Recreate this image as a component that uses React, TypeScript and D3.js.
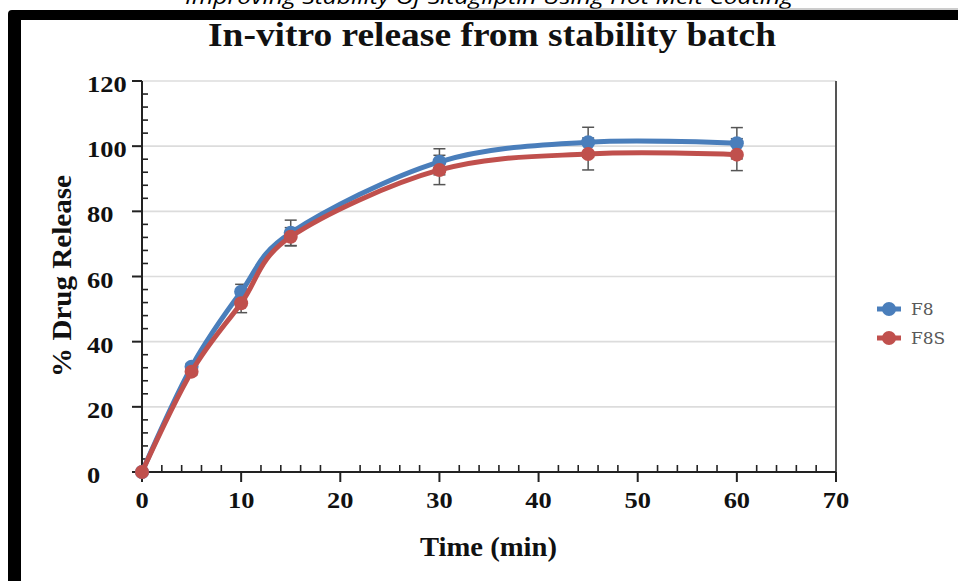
import React from "react";
import * as d3 from "d3";

const times = [0, 5, 10, 15, 30, 45, 60];
const f8Values = [0, 32.3, 55.3, 73.4, 95.2, 101.2, 100.9];
const f8Errors = [0, 1, 2.3, 3.9, 4, 4.6, 4.8];
const f8sValues = [0, 30.8, 51.8, 72.2, 92.7, 97.6, 97.4];
const f8sErrors = [0, 1, 2.9, 2.8, 4.5, 4.9, 4.9];
const xTickValues = [0, 10, 20, 30, 40, 50, 60, 70];
const yTickValues = [0, 20, 40, 60, 80, 100, 120];
const seriesNames = ["F8", "F8S"];
const seriesColors = ["#4A7EBB", "#C0504D"];

const W = 958;
const H = 581;
const serif = "'Liberation Serif', 'Times New Roman', serif";

export default function App() {
  const x = d3.scaleLinear().domain([0, 70]).range([142, 836]);
  const y = d3.scaleLinear().domain([0, 120]).range([472, 81]);

  const xMinor = d3.range(0, 70.01, 2).filter((v) => v % 10 !== 0);
  const yMinor = d3.range(0, 120.01, 4).filter((v) => v % 20 !== 0);

  const line = d3
    .line<number>()
    .x((_, i) => x(times[i]))
    .y((d) => y(d))
    .curve(d3.curveCardinal.tension(0));

  const series = [
    { name: seriesNames[0], values: f8Values, errors: f8Errors, color: seriesColors[0] },
    { name: seriesNames[1], values: f8sValues, errors: f8sErrors, color: seriesColors[1] },
  ];

  return (
    <svg
      width={W}
      height={H}
      style={{ position: "absolute", left: 0, top: 0, background: "#fff" }}
    >
      <rect x={0} y={0} width={W} height={H} fill="#fff" />
      {/* page header (cut at the top, as in the source) */}
      <text
        x={489}
        y={4}
        textAnchor="middle"
        fontFamily="'Open Sans', 'Liberation Sans', sans-serif"
        fontStyle="italic"
        fontSize={20}
        textLength={608}
        lengthAdjust="spacingAndGlyphs"
        fill="#000"
      >
        Improving Stability Of Sitagliptin Using Hot Melt Coating
      </text>
      <line x1={470} x2={W} y1={9} y2={9} stroke="#9a9a9a" strokeWidth={1} />
      {/* black frame */}
      <path d={`M8,${H} L8,14 Q8,10 12,10 L${W},10 L${W},20 L21,20 L21,${H} Z`} fill="#000" />

      {/* title */}
      <text
        x={492}
        y={46}
        textAnchor="middle"
        fontFamily={serif}
        fontWeight="bold"
        fontSize={33}
        textLength={568}
        lengthAdjust="spacingAndGlyphs"
        fill="#111"
      >
        In-vitro release from stability batch
      </text>

      {/* gridlines */}
      {yTickValues.filter((v) => v > 0).map((v) => (
        <line key={"g" + v} x1={x(0)} x2={x(70)} y1={y(v)} y2={y(v)} stroke="#dcdcdc" strokeWidth={1.6} />
      ))}
      {/* right border */}
      <line x1={x(70)} x2={x(70)} y1={y(120)} y2={y(0)} stroke="#555" strokeWidth={2} />

      {/* y axis */}
      <line x1={x(0)} x2={x(0)} y1={y(120)} y2={y(0)} stroke="#222" strokeWidth={2} />
      {yTickValues.map((v) => (
        <line key={"yt" + v} x1={x(0) - 10} x2={x(0)} y1={y(v)} y2={y(v)} stroke="#222" strokeWidth={2} />
      ))}
      {yMinor.map((v) => (
        <line key={"ym" + v} x1={x(0)} x2={x(0) + 6} y1={y(v)} y2={y(v)} stroke="#222" strokeWidth={1.6} />
      ))}
      {yTickValues.map((v) => (
        <text
          key={"yl" + v}
          transform={`translate(87,${y(v) + 11}) scale(1.15,1)`}
          fontFamily={serif}
          fontWeight="bold"
          fontSize={23}
          fill="#111"
        >
          {v}
        </text>
      ))}

      {/* x axis */}
      <line x1={x(0)} x2={x(70)} y1={y(0)} y2={y(0)} stroke="#222" strokeWidth={2} />
      {xTickValues.map((v) => (
        <line key={"xt" + v} x1={x(v)} x2={x(v)} y1={y(0)} y2={y(0) + 10} stroke="#222" strokeWidth={2} />
      ))}
      {xMinor.map((v) => (
        <line key={"xm" + v} x1={x(v)} x2={x(v)} y1={y(0) - 7} y2={y(0)} stroke="#222" strokeWidth={1.6} />
      ))}
      {xTickValues.map((v) => (
        <text
          key={"xl" + v}
          transform={`translate(${x(v)},508) scale(1.15,1)`}
          textAnchor="middle"
          fontFamily={serif}
          fontWeight="bold"
          fontSize={23}
          fill="#111"
        >
          {v}
        </text>
      ))}

      {/* axis titles */}
      <text
        x={488.5}
        y={556}
        textAnchor="middle"
        fontFamily={serif}
        fontWeight="bold"
        fontSize={27}
        textLength={137}
        lengthAdjust="spacingAndGlyphs"
        fill="#111"
      >
        Time (min)
      </text>
      <text
        transform={`translate(71,276) rotate(-90)`}
        textAnchor="middle"
        fontFamily={serif}
        fontWeight="bold"
        fontSize={27}
        textLength={202}
        lengthAdjust="spacingAndGlyphs"
        fill="#111"
      >
        % Drug Release
      </text>

      {/* error bars */}
      {series.map((s) =>
        times.map((t, i) =>
          s.errors[i] > 0 ? (
            <g key={s.name + "e" + i} stroke="#555" strokeWidth={1.5}>
              <line x1={x(t)} x2={x(t)} y1={y(s.values[i] + s.errors[i])} y2={y(s.values[i] - s.errors[i])} />
              <line x1={x(t) - 6} x2={x(t) + 6} y1={y(s.values[i] + s.errors[i])} y2={y(s.values[i] + s.errors[i])} />
              <line x1={x(t) - 6} x2={x(t) + 6} y1={y(s.values[i] - s.errors[i])} y2={y(s.values[i] - s.errors[i])} />
            </g>
          ) : null
        )
      )}

      {/* series */}
      {series.map((s) => (
        <g key={s.name}>
          <path d={line(s.values) || ""} fill="none" stroke={s.color} strokeWidth={5} strokeLinejoin="round" />
          {s.values.map((v, i) => (
            <circle key={i} cx={x(times[i])} cy={y(v)} r={7} fill={s.color} />
          ))}
        </g>
      ))}

      {/* legend */}
      {series.map((s, i) => (
        <g key={"lg" + s.name} transform={`translate(888,${309 + i * 29})`}>
          <line x1={-11} x2={13} y1={0} y2={0} stroke={s.color} strokeWidth={5} />
          <circle cx={1} cy={0} r={7} fill={s.color} />
          <text x={23} y={6} fontFamily="'DejaVu Serif', serif" fontSize={17} fill="#595959">
            {s.name}
          </text>
        </g>
      ))}
    </svg>
  );
}
